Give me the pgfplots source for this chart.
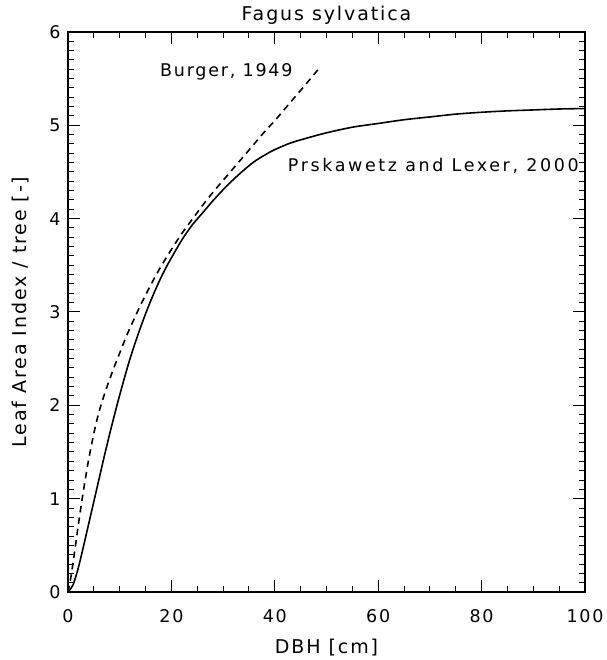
\documentclass[border=0pt]{standalone}
\usepackage{fontspec}
\setmainfont{DejaVu Sans}[LetterSpace=10]
\usepackage{pgfplots}
\pgfplotsset{compat=1.18}
\pgfplotstableread{
x y
0 0
1 0.08
2 0.26
3 0.49
4 0.73
5 0.97
6 1.21
7 1.45
8 1.68
9 1.90
10 2.11
11 2.31
12 2.50
13 2.67
14 2.83
15 2.98
16 3.12
17 3.25
18 3.37
19 3.48
20 3.58
22 3.77
24 3.93
26 4.06
28 4.19
30 4.31
32 4.42
34 4.52
36 4.61
38 4.68
40 4.74
43 4.81
46 4.86
50 4.92
55 4.98
60 5.02
65 5.06
70 5.09
75 5.12
80 5.14
85 5.155
90 5.165
95 5.175
100 5.18
}\prskawetz
\pgfplotstableread{
x y
0 0
0.5 0.14
1 0.32
1.5 0.52
2 0.72
2.5 0.91
3 1.09
3.5 1.26
4 1.42
5 1.70
6 1.93
7 2.11
8 2.27
9 2.42
10 2.56
11 2.70
12 2.83
13 2.95
14 3.07
15 3.18
16 3.29
18 3.49
20 3.67
22 3.84
24 3.99
26 4.14
28 4.28
30 4.41
32 4.54
34 4.67
36 4.80
38 4.93
40 5.05
42 5.18
44 5.31
46 5.44
48.4 5.60
}\burger
\begin{document}
\begin{tikzpicture}
\path[use as bounding box] (-68pt,-68pt) rectangle (538pt,592pt);
\begin{axis}[
  at={(0pt,0pt)}, anchor=south west,
  scale only axis, width=517pt, height=560pt,
  xmin=0, xmax=100, ymin=0, ymax=6,
  xtick={0,20,...,100}, ytick={0,1,...,6},
  minor x tick num=3, minor y tick num=9,
  tick align=inside, major tick length=12pt, minor tick length=6pt,
  axis line style={line width=1.3pt},
  every tick/.style={line width=1pt, black},
  /pgf/number format/assume math mode=true,
  tick label style={font=\fontsize{17.5}{20}\selectfont},
  xticklabel style={anchor=base, yshift=-30pt},
  yticklabel style={anchor=east, xshift=-4pt},
  title={Fagus sylvatica},
  title style={font=\fontsize{19}{22}\selectfont, at={(axis description cs:0.5,1)}, anchor=base, yshift=5pt},
  xlabel={DBH [cm]},
  xlabel style={font=\fontsize{19}{22}\selectfont, at={(axis description cs:0.5,0)}, anchor=base, yshift=-61pt},
  ylabel={Leaf Area Index / tree [-]},
  ylabel style={font=\fontsize{19}{22}\selectfont, at={(axis description cs:-0.0812,0.5)}, anchor=base},
]
\addplot[black, line width=1.6pt, smooth] table[x=x,y=y] {\prskawetz};
\addplot[black, line width=1.6pt, smooth, dash pattern=on 6.5pt off 5pt] table[x=x,y=y] {\burger};
\node[anchor=base west, inner sep=0pt, font=\fontsize{17.5}{20}\selectfont] at (axis cs:17.8,5.52) {Burger, 1949};
\node[anchor=base west, inner sep=0pt, font=\fontsize{17.5}{20}\selectfont\addfontfeature{LetterSpace=15}] at (axis cs:42.5,4.51) {Prskawetz and Lexer, 2000};
\end{axis}
\end{tikzpicture}
\end{document}
